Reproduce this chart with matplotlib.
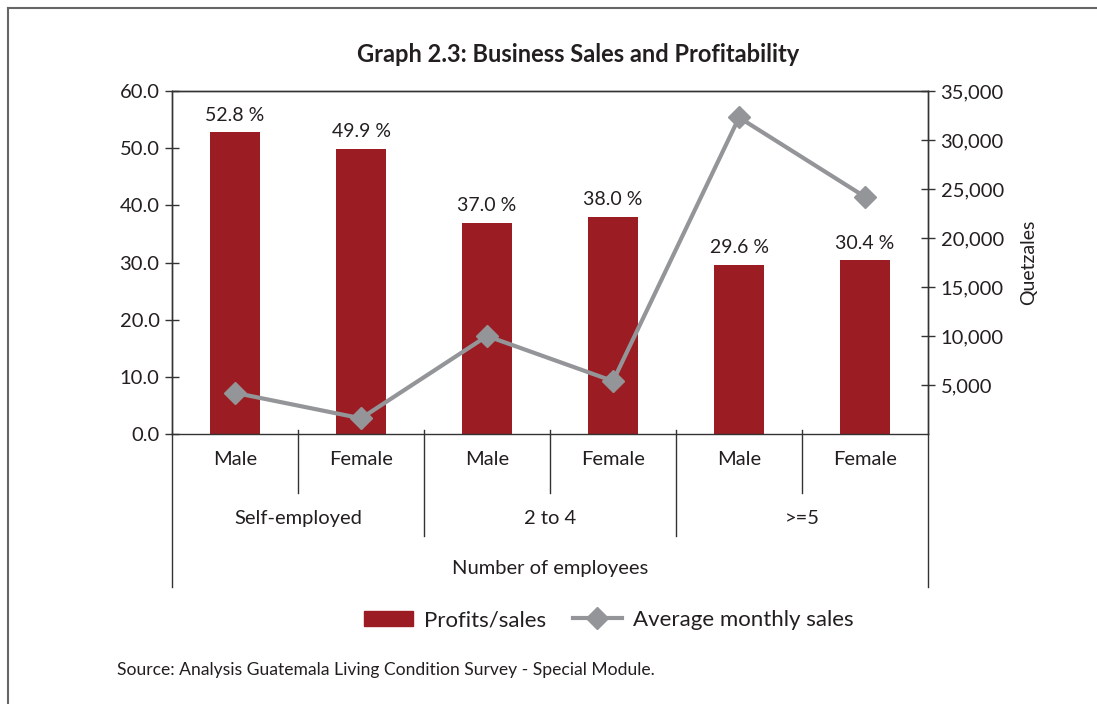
import matplotlib
matplotlib.use("Agg")
import matplotlib.pyplot as plt
from matplotlib.lines import Line2D
from matplotlib.patches import Patch
from matplotlib.ticker import FuncFormatter

plt.rcParams['font.family'] = ['Lato', 'DejaVu Sans']

# data
sexes = ["Male", "Female", "Male", "Female", "Male", "Female"]
groups = ["Self-employed", "2 to 4", ">=5"]
profit_share = [52.8, 49.9, 37.0, 38.0, 29.6, 30.4]
avg_sales = [4200, 1600, 10000, 5400, 32300, 24200]

bar_color = "#9b1c22"
line_color = "#939598"
text_color = "#231f20"
axis_color = "#333333"

fig = plt.figure(figsize=(10.97, 7.04), dpi=100)
ax = fig.add_axes([0.1568, 0.3835, 0.6892, 0.4872])
ax2 = ax.twinx()

x = list(range(len(sexes)))
ax.bar(x, profit_share, width=0.4, color=bar_color, zorder=2)
for xi, v in zip(x, profit_share):
    ax.annotate(f"{v:.1f} %", (xi, v), xytext=(0, 6), textcoords="offset points",
                ha="center", va="bottom", fontsize=14, color=text_color)

ax2.plot(x, avg_sales, color=line_color, lw=3, marker="D", markersize=11, zorder=3)

ax.set_xlim(-0.5, 5.5)
ax.set_ylim(0, 60)
ax2.set_ylim(0, 35000)
ax.set_yticks(range(0, 61, 10))
ax.yaxis.set_major_formatter(FuncFormatter(lambda v, p: f"{v:.1f}"))
ax2.set_yticks(range(5000, 35001, 5000))
ax2.yaxis.set_major_formatter(FuncFormatter(lambda v, p: f"{int(v):,}"))
ax.set_xticks([])

for a in (ax, ax2):
    for s in a.spines.values():
        s.set_color(axis_color)
        s.set_linewidth(1)
    a.tick_params(axis="y", direction="inout", length=10, width=1, color=axis_color,
                  labelsize=14.5, labelcolor=text_color, pad=4)
ax2.spines["bottom"].set_visible(False)
ax2.set_zorder(ax.get_zorder() + 1)
ax2.patch.set_visible(False)

ax2.set_ylabel("Quetzales", fontsize=14, color=text_color, labelpad=12)

# multi-level category axis below the plot
tr = ax.get_xaxis_transform()
for xi in [0.5, 1.5, 2.5, 3.5, 4.5]:
    bottom = -0.297 if xi in (1.5, 3.5) else -0.172
    ax.plot([xi, xi], [0.012, bottom], transform=tr, color=axis_color, lw=1, clip_on=False)
for xi in [-0.5, 5.5]:
    ax.plot([xi, xi], [0, -0.446], transform=tr, color=axis_color, lw=1, clip_on=False)
for xi, lab in zip(x, sexes):
    ax.text(xi, -0.075, lab, transform=tr, ha="center", va="center", fontsize=14.5, color=text_color)
for gi, lab in enumerate(groups):
    ax.text(2 * gi + 0.5, -0.247, lab, transform=tr, ha="center", va="center", fontsize=14.5, color=text_color)
ax.text(2.5, -0.393, "Number of employees", transform=tr, ha="center", va="center",
        fontsize=14.5, color=text_color)

fig.text(0.527, 0.923, "Graph 2.3: Business Sales and Profitability", ha="center", va="center",
         fontsize=17, fontweight="bold", color=text_color)

handles = [Patch(color=bar_color),
           Line2D([], [], color=line_color, lw=3, marker="D", markersize=11)]
fig.legend(handles, ["Profits/sales", "Average monthly sales"], loc="center",
           bbox_to_anchor=(0.555, 0.119), ncol=2, frameon=False, fontsize=16,
           handlelength=2.2, handletextpad=0.5, columnspacing=1.2, labelcolor=text_color)

fig.text(0.1067, 0.048, "Source: Analysis Guatemala Living Condition Survey - Special Module.",
         ha="left", va="center", fontsize=12.6, color=text_color)

# outer frame (only top and left edges visible)
fig.add_artist(Line2D([0.0073, 0.0073], [0, 0.9886], transform=fig.transFigure, color="#666666", lw=1.5))
fig.add_artist(Line2D([0.0073, 1.0], [0.9886, 0.9886], transform=fig.transFigure, color="#666666", lw=1.5))

fig.savefig("out.png", dpi=100)
